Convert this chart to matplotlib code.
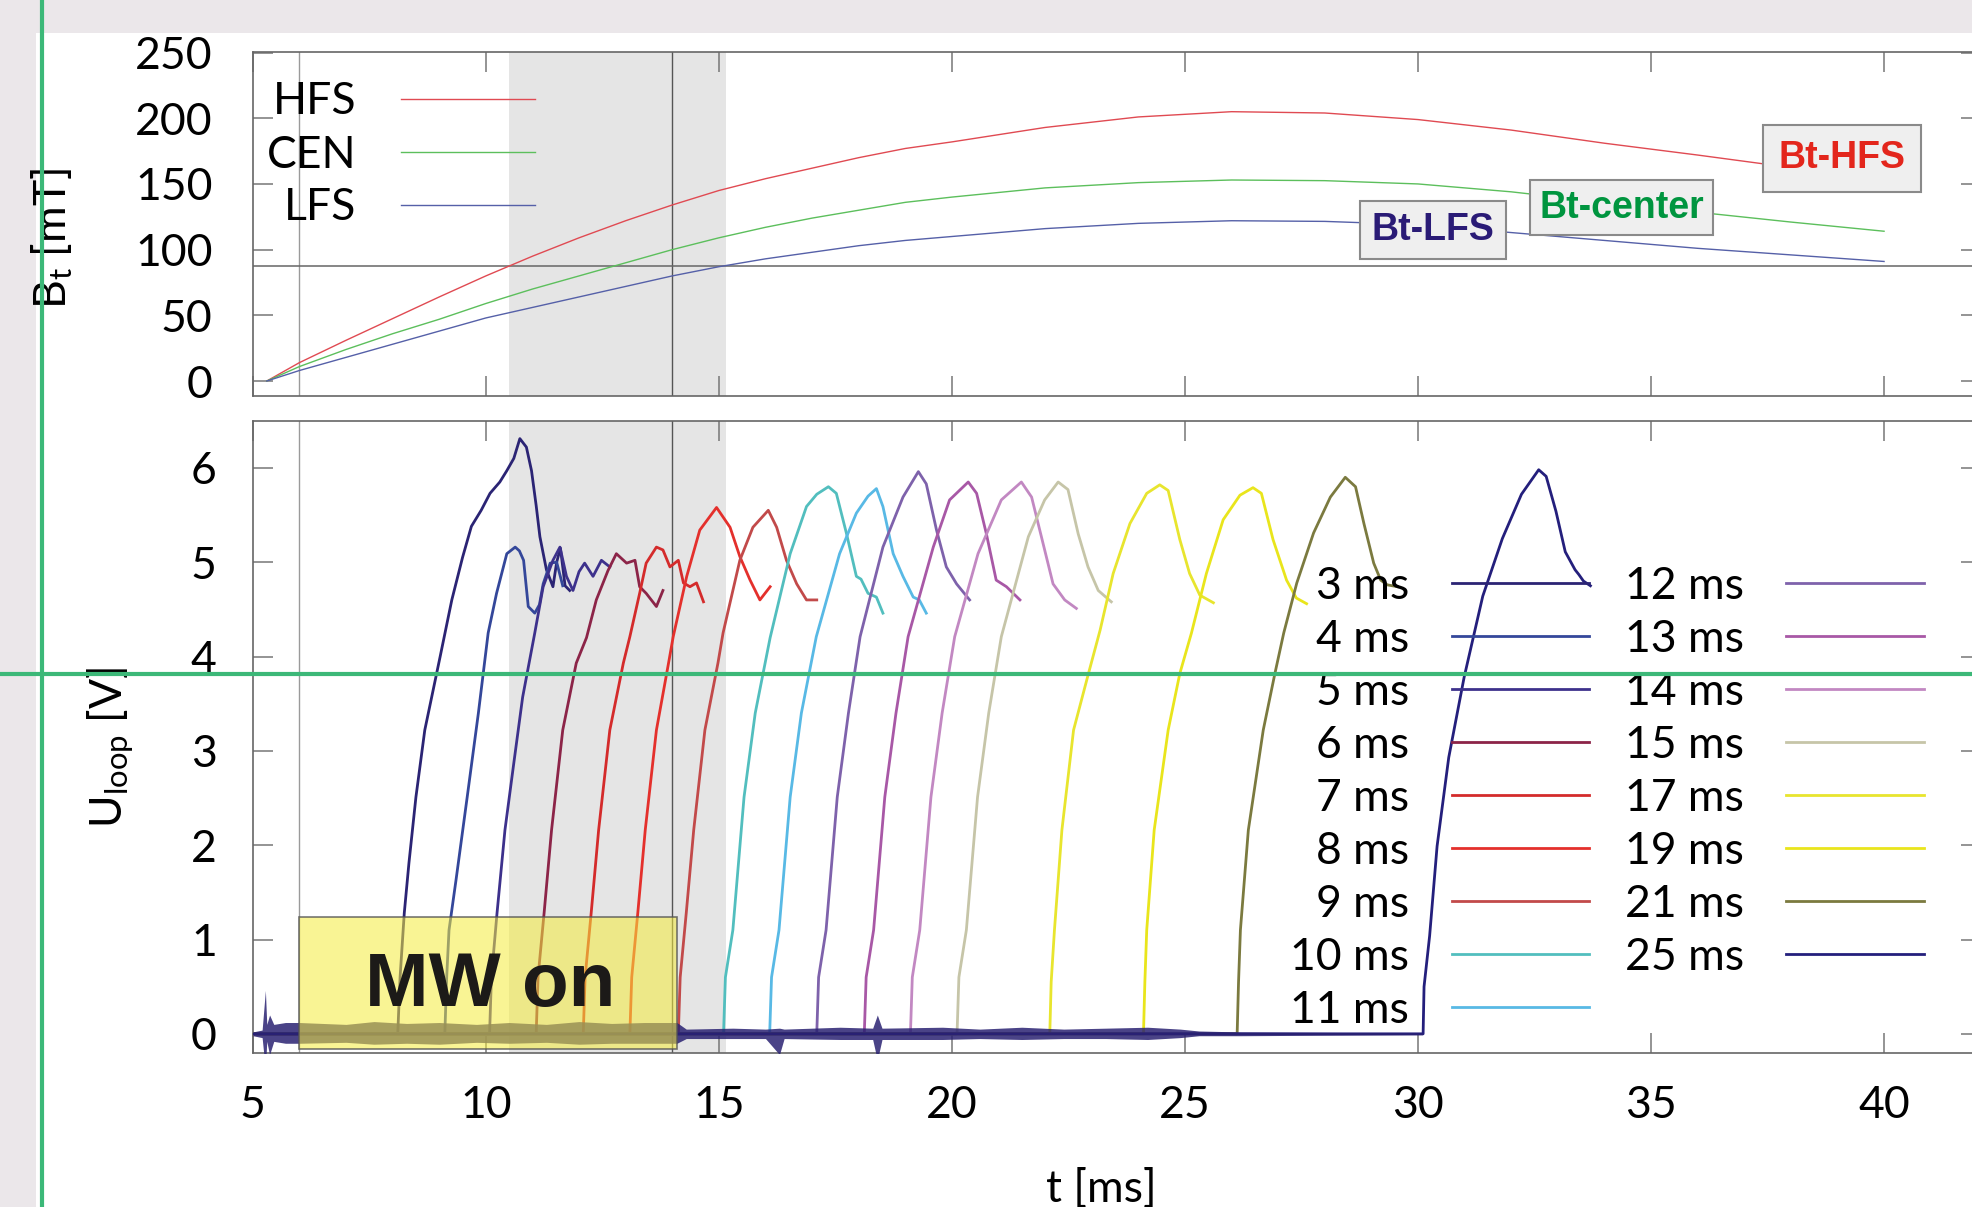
import matplotlib
matplotlib.use("Agg")
import matplotlib.pyplot as plt
from matplotlib.patches import Rectangle
from matplotlib.lines import Line2D

plt.rcParams["font.family"] = ["Lato", "DejaVu Sans"]
plt.rcParams["mathtext.fontset"] = "custom"
plt.rcParams["mathtext.rm"] = "Lato"
plt.rcParams["mathtext.it"] = "Lato:italic"

W, H = 1972, 1207

# toroidal field B_t [mT] at high field side, center and low field side
bt_time = [5.3, 6, 7, 8, 9, 10, 11, 12, 13, 14, 15, 16, 17, 18, 19, 20,
           22, 24, 26, 28, 30, 32, 34, 36, 38, 40]
bt_hfs = [0, 14, 31, 47.5, 64, 80, 95, 109, 122, 134, 145, 154, 162, 170, 177, 182,
          193, 201, 205, 204, 199, 191, 181, 172, 162.5, 153]
bt_cen = [0, 11, 24, 36, 47, 59, 70, 80, 90, 100, 109, 117, 124, 130, 136, 140,
          147, 151, 153, 152.5, 150, 144, 136, 128.5, 121, 114]
bt_lfs = [0, 8, 18, 28, 38, 48, 56, 64, 72, 80, 87, 93, 98, 103, 107, 110,
          116, 120, 122, 121.5, 119, 113, 107, 101, 96, 91]

resonance_mT = 87.5          # 2.45 GHz ECR field
ecr_window = (10.5, 15.15)   # resonance inside the vessel
mw_on, mw_off = 6.0, 14.1
guide_times = [6, 14]

# loop voltage [V] per shot, label = delay of breakdown
t03 = [5.0, 8.11, 8.16, 8.25, 8.35, 8.50, 8.69, 9.02, 9.27, 9.50, 9.69, 9.90, 10.09, 10.30,
       10.45, 10.60, 10.73, 10.87, 10.98, 11.08, 11.16, 11.30, 11.44, 11.52, 11.60, 11.70, 11.80]
u03 = [0, 0, 0.60, 1.28, 1.81, 2.51, 3.22, 4.00, 4.60, 5.05, 5.38, 5.55, 5.73, 5.85,
       5.97, 6.10, 6.31, 6.22, 5.97, 5.60, 5.27, 4.92, 4.74, 5.00, 5.15, 4.75, 4.70]
t04 = [5.0, 9.12, 9.16, 9.21, 9.36, 9.60, 9.84, 10.05, 10.23, 10.45, 10.63, 10.72, 10.81,
       10.91, 11.05, 11.15, 11.23, 11.38, 11.52, 11.65]
u04 = [0, 0, 0.60, 1.10, 1.63, 2.51, 3.40, 4.25, 4.67, 5.09, 5.16, 5.12, 5.02,
       4.53, 4.46, 4.55, 4.77, 4.99, 5.00, 4.75]
t05 = [5.0, 10.08, 10.12, 10.24, 10.41, 10.60, 10.79, 11.05, 11.23, 11.44, 11.59, 11.73,
       11.87, 12.00, 12.12, 12.30, 12.48, 12.66]
u05 = [0, 0, 0.60, 1.28, 2.16, 2.87, 3.57, 4.25, 4.74, 5.02, 5.16, 4.85,
       4.70, 4.90, 4.99, 4.85, 5.02, 4.95]
t06 = [5.0, 11.08, 11.12, 11.25, 11.41, 11.65, 11.94, 12.16, 12.37, 12.62, 12.80, 13.02,
       13.20, 13.30, 13.44, 13.66, 13.80]
u06 = [0, 0, 0.60, 1.28, 2.16, 3.22, 3.93, 4.20, 4.60, 4.91, 5.09, 4.99,
       5.02, 4.74, 4.67, 4.53, 4.70]
t07 = [5.0, 12.09, 12.13, 12.26, 12.42, 12.66, 12.95, 13.09, 13.30, 13.44, 13.66, 13.80,
       13.95, 14.13, 14.24, 14.38, 14.52, 14.67]
u07 = [0, 0, 0.60, 1.28, 2.16, 3.22, 3.93, 4.21, 4.67, 4.99, 5.16, 5.13,
       4.95, 5.02, 4.78, 4.74, 4.78, 4.58]
t08 = [5.0, 13.09, 13.13, 13.26, 13.42, 13.66, 13.92, 14.02, 14.31, 14.59, 14.95, 15.24,
       15.45, 15.67, 15.88, 16.10]
u08 = [0, 0, 0.60, 1.28, 2.16, 3.22, 3.93, 4.21, 4.85, 5.34, 5.58, 5.37,
       5.06, 4.81, 4.60, 4.74]
t09 = [5.0, 14.13, 14.17, 14.30, 14.46, 14.70, 14.98, 15.09, 15.45, 15.73, 16.06, 16.24,
       16.45, 16.67, 16.88, 17.10]
u09 = [0, 0, 0.60, 1.28, 2.16, 3.22, 3.93, 4.25, 5.02, 5.37, 5.55, 5.37,
       5.02, 4.77, 4.60, 4.60]
t10 = [5.0, 15.10, 15.14, 15.30, 15.54, 15.78, 16.10, 16.53, 16.88, 17.10, 17.35, 17.52,
       17.74, 17.95, 18.05, 18.20, 18.38, 18.52]
u10 = [0, 0, 0.60, 1.10, 2.51, 3.40, 4.20, 5.09, 5.59, 5.72, 5.80, 5.73,
       5.30, 4.85, 4.82, 4.67, 4.63, 4.46]
t11 = [5.0, 16.09, 16.13, 16.29, 16.53, 16.77, 17.09, 17.59, 17.95, 18.20, 18.38, 18.52,
       18.74, 18.95, 19.17, 19.30, 19.45]
u11 = [0, 0, 0.60, 1.10, 2.51, 3.40, 4.21, 5.09, 5.52, 5.70, 5.78, 5.59,
       5.09, 4.85, 4.63, 4.60, 4.46]
t12 = [5.0, 17.10, 17.14, 17.30, 17.54, 17.78, 18.03, 18.52, 18.95, 19.28, 19.45, 19.67,
       19.88, 20.10, 20.38]
u12 = [0, 0, 0.60, 1.10, 2.51, 3.40, 4.21, 5.16, 5.69, 5.96, 5.83, 5.34,
       4.95, 4.77, 4.60]
t13 = [5.0, 18.12, 18.16, 18.32, 18.56, 18.80, 19.06, 19.60, 19.95, 20.35, 20.53, 20.74,
       20.95, 21.17, 21.46]
u13 = [0, 0, 0.60, 1.10, 2.51, 3.40, 4.21, 5.16, 5.66, 5.85, 5.73, 5.30,
       4.81, 4.74, 4.60]
t14 = [5.0, 19.11, 19.15, 19.31, 19.55, 19.79, 20.06, 20.56, 21.06, 21.49, 21.71, 21.92,
       22.17, 22.42, 22.67]
u14 = [0, 0, 0.60, 1.10, 2.51, 3.40, 4.21, 5.09, 5.66, 5.85, 5.69, 5.27,
       4.77, 4.60, 4.51]
t15 = [5.0, 20.11, 20.15, 20.31, 20.55, 20.79, 21.06, 21.64, 21.99, 22.28, 22.49, 22.71,
       22.92, 23.14, 23.42]
u15 = [0, 0, 0.60, 1.10, 2.51, 3.40, 4.21, 5.27, 5.66, 5.85, 5.77, 5.30,
       4.95, 4.70, 4.58]
t17 = [5.0, 22.10, 22.13, 22.20, 22.36, 22.61, 22.93, 23.18, 23.46, 23.82, 24.18, 24.46,
       24.64, 24.89, 25.10, 25.32, 25.61]
u17 = [0, 0, 0.55, 1.10, 2.16, 3.22, 3.82, 4.28, 4.88, 5.41, 5.73, 5.82,
       5.76, 5.24, 4.88, 4.65, 4.57]
t19 = [5.0, 24.11, 24.14, 24.18, 24.34, 24.64, 24.89, 25.14, 25.46, 25.82, 26.18, 26.46,
       26.64, 26.89, 27.18, 27.39, 27.61]
u19 = [0, 0, 0.55, 1.10, 2.16, 3.22, 3.82, 4.25, 4.88, 5.45, 5.71, 5.79,
       5.73, 5.24, 4.81, 4.62, 4.56]
t21 = [5.0, 26.12, 26.15, 26.19, 26.36, 26.68, 26.93, 27.12, 27.40, 27.76, 28.12, 28.44,
       28.66, 28.84, 29.05, 29.20, 29.34, 29.56]
u21 = [0, 0, 0.55, 1.10, 2.16, 3.22, 3.82, 4.25, 4.78, 5.31, 5.69, 5.90,
       5.80, 5.41, 4.99, 4.81, 4.76, 4.74]
t25 = [5.0, 30.11, 30.13, 30.25, 30.41, 30.66, 30.99, 31.39, 31.81, 32.22, 32.59, 32.75,
       32.96, 33.16, 33.37, 33.45, 33.55, 33.70]
u25 = [0, 0, 0.50, 1.04, 1.99, 2.93, 3.78, 4.64, 5.25, 5.72, 5.98, 5.91,
       5.54, 5.11, 4.92, 4.87, 4.80, 4.75]

# envelope of the pickup noise on the baseline
noise_t = [5.0, 5.2, 5.27, 5.3, 5.36, 5.45, 5.7, 6.0, 7.0, 7.6, 8.3, 9.0, 9.8, 10.5, 11.3,
           12.0, 12.7, 13.4, 14.1, 14.3, 15.3, 16.0, 16.3, 16.4, 17.6, 18.3, 18.4, 18.5,
           19.8, 20.6, 21.5, 22.4, 23.3, 24.2, 24.9, 25.3, 26.2, 28.0, 30.1]
noise_hi = [0.02, 0.04, 0.46, 0.10, 0.20, 0.10, 0.12, 0.12, 0.10, 0.13, 0.11, 0.12, 0.10,
            0.12, 0.10, 0.13, 0.11, 0.12, 0.12, 0.05, 0.06, 0.05, 0.06, 0.05, 0.07, 0.06,
            0.20, 0.06, 0.07, 0.05, 0.07, 0.05, 0.06, 0.07, 0.05, 0.03, 0.02, 0.015, 0.01]
noise_lo = [-0.02, -0.04, -0.38, -0.08, -0.22, -0.08, -0.10, -0.10, -0.09, -0.11, -0.10,
            -0.11, -0.09, -0.10, -0.09, -0.11, -0.10, -0.10, -0.10, -0.05, -0.05, -0.05,
            -0.22, -0.05, -0.06, -0.06, -0.28, -0.06, -0.06, -0.05, -0.06, -0.05, -0.05,
            -0.06, -0.04, -0.02, -0.02, -0.015, -0.01]

shots = [
    ("3 ms", t03, u03, "#2b2474"), ("4 ms", t04, u04, "#34479a"),
    ("5 ms", t05, u05, "#3d318c"), ("6 ms", t06, u06, "#8c2448"),
    ("7 ms", t07, u07, "#d42b2b"), ("8 ms", t08, u08, "#e4302c"),
    ("9 ms", t09, u09, "#c24a4a"), ("10 ms", t10, u10, "#52bebe"),
    ("11 ms", t11, u11, "#58b9e5"), ("12 ms", t12, u12, "#7e62ab"),
    ("13 ms", t13, u13, "#a858a6"), ("14 ms", t14, u14, "#c288c2"),
    ("15 ms", t15, u15, "#c6c5a8"), ("17 ms", t17, u17, "#e8e52e"),
    ("19 ms", t19, u19, "#e9e51c"), ("21 ms", t21, u21, "#7b7a3f"),
    ("25 ms", t25, u25, "#241f7c"),
]

fig = plt.figure(figsize=(W / 100, H / 100), dpi=100)

# page margins
fig.add_artist(Rectangle((0, 0), 36 / W, 1, transform=fig.transFigure,
                         facecolor="#ebe7ea", edgecolor="none", zorder=0))
fig.add_artist(Rectangle((0, 1 - 33 / H), 1, 33 / H, transform=fig.transFigure,
                         facecolor="#ebe7ea", edgecolor="none", zorder=0))

left = 252.8 / W
width = (1981 - 252.8) / W
ax_b = fig.add_axes([left, 1 - 396 / H, width, (396 - 52.3) / H])
ax_u = fig.add_axes([left, 1 - 1052.7 / H, width, (1052.7 - 420.7) / H])


def style(ax, ypad):
    ax.set_xlim(5, 42.08)
    ax.set_xticks(range(5, 45, 5))
    ax.tick_params(direction="in", length=14.4, width=1.1, color="#777777",
                   labelsize=32, top=True, right=True)
    ax.tick_params(axis="y", pad=ypad)
    ax.tick_params(axis="x", pad=23)
    for s in ax.spines.values():
        s.set_color("#666666")
        s.set_linewidth(1.2)
    ax.axvspan(*ecr_window, color="#e5e5e5", lw=0, zorder=0.5)
    ax.axvline(guide_times[0], color="#9a9a9a", lw=1.0, zorder=1)
    ax.axvline(guide_times[1], color="#555555", lw=1.0, zorder=1)


# --- top: toroidal field ---
style(ax_b, 29)
ax_b.set_ylim(-11.4, 250.2)
ax_b.set_yticks(range(0, 300, 50))
ax_b.tick_params(labelbottom=False)
ax_b.axhline(resonance_mT, color="#666666", lw=1.1, zorder=1)
ax_b.plot(bt_time, bt_hfs, color="#e04a52", lw=1.0, label="HFS", zorder=3)
ax_b.plot(bt_time, bt_cen, color="#5cbf5c", lw=1.0, label="CEN", zorder=3)
ax_b.plot(bt_time, bt_lfs, color="#5560a8", lw=1.0, label="LFS", zorder=3)
ax_b.set_ylabel(r"B$_\mathrm{t}$ [mT]", fontsize=32, va="center")
ax_b.yaxis.set_label_coords(-0.1159, 0.457)
ax_b.legend(loc="upper right", bbox_to_anchor=(534.5 / W, 1 - 81.5 / H),
            bbox_transform=fig.transFigure, frameon=False, markerfirst=False,
            fontsize=32, handlelength=3.0, handletextpad=1.0, labelspacing=0.27,
            borderpad=0, borderaxespad=0)

box_kw = dict(facecolor="#efefef", edgecolor="#8a8a8a", linewidth=1.5)
ax_b.text(39.1, 161.8, "Bt-HFS", color="#e3261c", fontsize=27, fontweight="bold",
          family="Liberation Sans", ha="center", va="baseline",
          bbox=dict(boxstyle="square,pad=0.41", **box_kw), zorder=5)
ax_b.text(34.37, 124.3, "Bt-center", color="#00953f", fontsize=27, fontweight="bold",
          family="Liberation Sans", ha="center", va="baseline",
          bbox=dict(boxstyle="square,pad=0.25", **box_kw), zorder=5)
ax_b.text(30.32, 107.3, "Bt-LFS", color="#2a1b76", fontsize=27, fontweight="bold",
          family="Liberation Sans", ha="center", va="baseline",
          bbox=dict(boxstyle="square,pad=0.3", **box_kw), zorder=5)

# --- bottom: loop voltage ---
style(ax_u, 26)
ax_u.set_ylim(-0.2, 6.5)
ax_u.set_yticks(range(0, 7))
for label, t, u, c in shots:
    ax_u.plot(t, u, color=c, lw=2.0, label=label, zorder=3)
ax_u.fill_between(noise_t, noise_lo, noise_hi, color="#2a2272", alpha=0.85, lw=0, zorder=3.5)
ax_u.add_patch(Rectangle((mw_on, -0.16), mw_off - mw_on, 1.40,
                         facecolor=(0.96, 0.92, 0.24, 0.55),
                         edgecolor=(0.33, 0.33, 0.33, 0.8), lw=1.2, zorder=4))
ax_u.text((mw_on + mw_off) / 2 + 0.05, 0.29, "MW on", fontsize=55, fontweight="bold",
          family="Liberation Sans", color="#1c1a18", ha="center", va="baseline", zorder=6)
ax_u.set_ylabel(r"U$_\mathrm{loop}$ [V]", fontsize=32, va="center")
ax_u.yaxis.set_label_coords(-0.0822, 0.4826)
ax_u.set_xlabel("t [ms]", fontsize=32)
ax_u.xaxis.set_label_coords(0.491, -0.184)
ax_u.legend(loc="upper right", bbox_to_anchor=(1924 / W, 1 - 566 / H),
            bbox_transform=fig.transFigure, ncol=2, frameon=False, markerfirst=False,
            fontsize=32, handlelength=3.1, handletextpad=0.95, columnspacing=0.8,
            labelspacing=0.27, borderpad=0, borderaxespad=0)

# guide lines across the page
fig.add_artist(Line2D([42 / W, 42 / W], [0, 1], transform=fig.transFigure,
                      color="#3cb878", lw=3.0, zorder=100))
fig.add_artist(Line2D([0, 1], [1 - 674 / H, 1 - 674 / H], transform=fig.transFigure,
                      color="#3cb878", lw=3.0, zorder=100))

fig.savefig("out.png", dpi=100)
